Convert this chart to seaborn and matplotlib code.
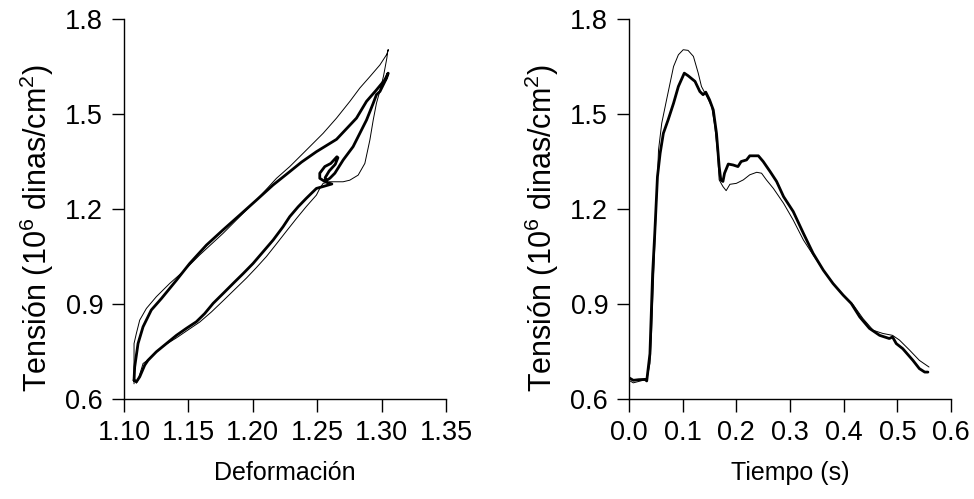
import numpy as np
import pandas as pd
import matplotlib
matplotlib.use("Agg")
import matplotlib.pyplot as plt
import seaborn as sns

# --- data ---

# right panel: stress vs time, thick trace
t_thick = [0.000, 0.008, 0.018, 0.030, 0.033, 0.039, 0.044, 0.048, 0.053, 0.058, 0.064, 0.073,
           0.083, 0.092, 0.103, 0.110, 0.123, 0.132, 0.138, 0.143, 0.150, 0.157, 0.163, 0.168,
           0.171, 0.175, 0.178, 0.185, 0.194, 0.203, 0.209, 0.219, 0.225, 0.241, 0.250, 0.263,
           0.275, 0.288, 0.306, 0.325, 0.343, 0.362, 0.380, 0.399, 0.414, 0.430, 0.448, 0.467,
           0.485, 0.491, 0.498, 0.510, 0.529, 0.541, 0.551, 0.557]
s_thick = [0.667, 0.659, 0.661, 0.662, 0.657, 0.743, 0.996, 1.123, 1.302, 1.376, 1.439, 1.482,
           1.534, 1.587, 1.629, 1.621, 1.603, 1.571, 1.561, 1.569, 1.545, 1.513, 1.439, 1.334,
           1.292, 1.287, 1.313, 1.342, 1.339, 1.334, 1.350, 1.355, 1.368, 1.368, 1.350, 1.318,
           1.287, 1.239, 1.192, 1.123, 1.060, 1.007, 0.965, 0.928, 0.902, 0.859, 0.823, 0.801,
           0.791, 0.796, 0.775, 0.759, 0.722, 0.696, 0.685, 0.685]

# right panel: thin trace
t_thin = [0.000, 0.008, 0.026, 0.033, 0.039, 0.042, 0.047, 0.055, 0.061, 0.070, 0.083, 0.092,
          0.101, 0.110, 0.120, 0.129, 0.135, 0.145, 0.154, 0.160, 0.165, 0.168, 0.175, 0.181,
          0.188, 0.200, 0.213, 0.225, 0.238, 0.247, 0.256, 0.269, 0.288, 0.306, 0.325, 0.343,
          0.362, 0.380, 0.399, 0.418, 0.436, 0.455, 0.473, 0.491, 0.504, 0.523, 0.541, 0.559]
s_thin = [0.659, 0.651, 0.659, 0.659, 0.712, 0.807, 1.039, 1.387, 1.471, 1.545, 1.650, 1.687,
          1.703, 1.701, 1.682, 1.629, 1.587, 1.555, 1.524, 1.460, 1.376, 1.292, 1.271, 1.258,
          1.278, 1.281, 1.292, 1.308, 1.316, 1.313, 1.292, 1.265, 1.218, 1.165, 1.102, 1.055,
          1.007, 0.965, 0.928, 0.897, 0.854, 0.817, 0.807, 0.801, 0.786, 0.754, 0.722, 0.701]

# left panel: stress vs strain loop, thick trace
d_thick = [1.1078, 1.1083, 1.1109, 1.1148, 1.1212, 1.1290, 1.1407, 1.1510, 1.1640, 1.1769,
           1.1899, 1.2028, 1.2158, 1.2287, 1.2378, 1.2494, 1.2650, 1.2805, 1.2883, 1.2960,
           1.3025, 1.3051, 1.3038, 1.2987, 1.2960, 1.2935, 1.2883, 1.2831, 1.2779, 1.2702,
           1.2637, 1.2598, 1.2559, 1.2520, 1.2520, 1.2559, 1.2606, 1.2653, 1.2661, 1.2640,
           1.2593, 1.2562, 1.2575, 1.2614, 1.2546, 1.2494, 1.2416, 1.2352, 1.2287, 1.2235,
           1.2158, 1.2080, 1.2002, 1.1925, 1.1860, 1.1769, 1.1692, 1.1627, 1.1562, 1.1484,
           1.1407, 1.1329, 1.1251, 1.1186, 1.1161, 1.1122, 1.1096, 1.1078]
p_thick = [0.659, 0.701, 0.775, 0.828, 0.881, 0.917, 0.975, 1.028, 1.086, 1.134,
           1.181, 1.228, 1.276, 1.318, 1.348, 1.381, 1.420, 1.487, 1.540, 1.576,
           1.608, 1.629, 1.613, 1.571, 1.561, 1.534, 1.481, 1.439, 1.397, 1.355,
           1.313, 1.297, 1.287, 1.297, 1.313, 1.334, 1.344, 1.365, 1.362, 1.341,
           1.320, 1.299, 1.284, 1.279, 1.271, 1.265, 1.234, 1.207, 1.176, 1.144,
           1.102, 1.065, 1.028, 0.996, 0.970, 0.933, 0.902, 0.870, 0.844, 0.823,
           0.801, 0.775, 0.749, 0.722, 0.707, 0.670, 0.654, 0.659]

# left panel: thin trace
d_thin = [1.1078, 1.1078, 1.1096, 1.1122, 1.1174, 1.1251, 1.1355, 1.1458, 1.1588, 1.1769,
          1.1899, 1.2028, 1.2184, 1.2287, 1.2391, 1.2546, 1.2650, 1.2754, 1.2831, 1.2909,
          1.2987, 1.3038, 1.3054, 1.3049, 1.3041, 1.3015, 1.2989, 1.2960, 1.2935, 1.2909,
          1.2870, 1.2818, 1.2753, 1.2701, 1.2598, 1.2546, 1.2520, 1.2494, 1.2416, 1.2339,
          1.2261, 1.2184, 1.2106, 1.2028, 1.1951, 1.1860, 1.1769, 1.1679, 1.1588, 1.1497,
          1.1407, 1.1316, 1.1238, 1.1174, 1.1148, 1.1109, 1.1096]
p_thin = [0.648, 0.775, 0.807, 0.849, 0.886, 0.923, 0.965, 1.002, 1.055, 1.123,
          1.176, 1.228, 1.297, 1.334, 1.376, 1.439, 1.487, 1.540, 1.582, 1.618,
          1.655, 1.687, 1.703, 1.703, 1.677, 1.620, 1.576, 1.534, 1.481, 1.418,
          1.344, 1.307, 1.291, 1.286, 1.286, 1.281, 1.265, 1.244, 1.208, 1.170,
          1.130, 1.090, 1.050, 1.015, 0.982, 0.946, 0.910, 0.875, 0.843, 0.818,
          0.793, 0.770, 0.745, 0.720, 0.712, 0.660, 0.650]

# --- figure ---
sns.set_style("ticks")
plt.rcParams['font.family'] = ['Liberation Sans', 'DejaVu Sans']
plt.rcParams['mathtext.fontset'] = 'custom'
plt.rcParams['mathtext.rm'] = 'Liberation Sans'
plt.rcParams['mathtext.default'] = 'regular'
plt.rcParams['text.color'] = 'black'
plt.rcParams['axes.labelcolor'] = 'black'
plt.rcParams['xtick.color'] = 'black'
plt.rcParams['ytick.color'] = 'black'

fig = plt.figure(figsize=(9.74, 4.99), dpi=100)
ax1 = fig.add_axes([0.1273, 0.2004, 0.3306, 0.7615])
ax2 = fig.add_axes([0.6458, 0.2004, 0.3306, 0.7615])

thick_w, thin_w = 2.0, 0.7

sns.lineplot(x=d_thin, y=p_thin, sort=False, estimator=None, ax=ax1, color='black', lw=thin_w)
sns.lineplot(x=d_thick, y=p_thick, sort=False, estimator=None, ax=ax1, color='black', lw=thick_w)
sns.lineplot(x=t_thin, y=s_thin, sort=False, estimator=None, ax=ax2, color='black', lw=thin_w)
sns.lineplot(x=t_thick, y=s_thick, sort=False, estimator=None, ax=ax2, color='black', lw=thick_w)

ylab = 'Tensión (10$^{6}$ dinas/cm$^{2}$)'
ax1.set_xlim(1.10, 1.35)
ax1.set_xticks([1.10, 1.15, 1.20, 1.25, 1.30, 1.35])
ax1.set_xticklabels(['1.10', '1.15', '1.20', '1.25', '1.30', '1.35'])
ax1.set_xlabel('Deformación', fontsize=18, labelpad=11)

ax2.set_xlim(0.0, 0.6)
ax2.set_xticks([0.0, 0.1, 0.2, 0.3, 0.4, 0.5, 0.6])
ax2.set_xticklabels(['0.0', '0.1', '0.2', '0.3', '0.4', '0.5', '0.6'])
ax2.set_xlabel('Tiempo (s)', fontsize=18, labelpad=11)

for ax in (ax1, ax2):
    ax.set_ylim(0.6, 1.8)
    ax.set_yticks([0.6, 0.9, 1.2, 1.5, 1.8])
    ax.set_yticklabels(['0.6', '0.9', '1.2', '1.5', '1.8'])
    ax.set_ylabel(ylab, fontsize=22)
    ax.yaxis.set_label_coords(-0.21, 0.45)
    ax.tick_params(labelsize=19.5, length=9, width=1, color='black', pad=6)
    sns.despine(ax=ax)
    for sp in ('left', 'bottom'):
        ax.spines[sp].set_linewidth(1)
        ax.spines[sp].set_color('black')

fig.savefig('out.png', dpi=100)
